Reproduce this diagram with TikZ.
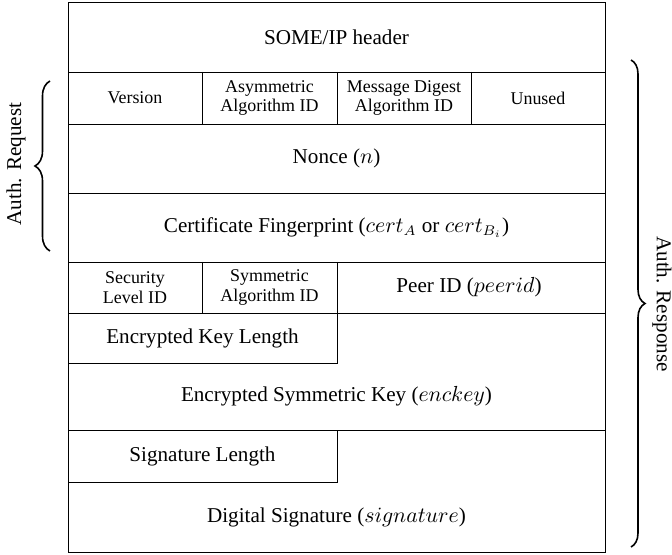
\documentclass[tikz,border=0pt]{standalone}
\usepackage{fontspec}
\setmainfont{Liberation Serif}
\usetikzlibrary{decorations.pathreplacing}
\tikzset{
  lbl/.style={inner sep=0pt, align=center, font=\fontsize{10.6}{12.5}\selectfont},
  sml/.style={inner sep=0pt, align=center, font=\fontsize{9}{10}\selectfont},
  frame/.style={draw=black, line width=0.45pt},
  bracestyle/.style={draw=black, line width=0.8pt, decorate},
}
\begin{document}
\begin{tikzpicture}[x=0.5bp, y=-0.5bp]
\useasboundingbox (0,0) rectangle (672,555);
% outer frame and lines
\draw[frame] (68,2) rectangle (605,552);
\draw[frame] (68,72) -- (605,72);
\draw[frame] (68,124) -- (605,124);
\draw[frame] (68,193) -- (605,193);
\draw[frame] (68,262) -- (605,262);
\draw[frame] (68,313) -- (605,313);
\draw[frame] (68,430) -- (605,430);
\draw[frame] (202,72) -- (202,124);
\draw[frame] (337,72) -- (337,124);
\draw[frame] (471,72) -- (471,124);
\draw[frame] (202,262) -- (202,313);
\draw[frame] (337,262) -- (337,313);
\draw[frame] (68,363) -- (337,363) -- (337,313);
\draw[frame] (68,482) -- (337,482) -- (337,430);
% texts
\node[lbl] (hdr) at (336.5,37) {SOME/IP header};
\node[sml] (ver) at (135,98) {Version};
\node[sml] (asym) at (269.5,98) {Asymmetric\\Algorithm ID};
\node[sml] (md) at (404,98) {Message Digest\\Algorithm ID};
\node[sml] (unused) at (538,98) {Unused};
\node[lbl] (nonce) at (336.5,158.5) {Nonce ($n$)};
\node[lbl] (cert) at (336.5,227.5) {Certificate Fingerprint ($cert_A$ or $cert_{B_i}$)};
\node[sml] (sec) at (135,287.5) {Security\\Level ID};
\node[sml] (sym) at (269.5,287.5) {Symmetric\\Algorithm ID};
\node[lbl] (peer) at (469,287.5) {Peer ID ($peerid$)};
\node[lbl] (eklen) at (202.5,338) {Encrypted Key Length};
\node[lbl] (ekey) at (336.5,396.5) {Encrypted Symmetric Key ($enckey$)};
\node[lbl] (siglen) at (202.5,456) {Signature Length};
\node[lbl] (sig) at (336.5,517) {Digital Signature ($signature$)};
% braces
\coordinate (lb1) at (50,251);
\coordinate (lb2) at (50,81);
\draw[bracestyle, decoration={brace, amplitude=7.5bp}] (lb1) -- (lb2);
\node[lbl, rotate=90] (req) at (16,164) {Auth. Request};
\coordinate (rb1) at (631,60);
\coordinate (rb2) at (631,547);
\draw[bracestyle, decoration={brace, amplitude=7bp}] (rb1) -- (rb2);
\node[lbl, rotate=-90] (resp) at (662,304) {Auth. Response};
\end{tikzpicture}
\end{document}
